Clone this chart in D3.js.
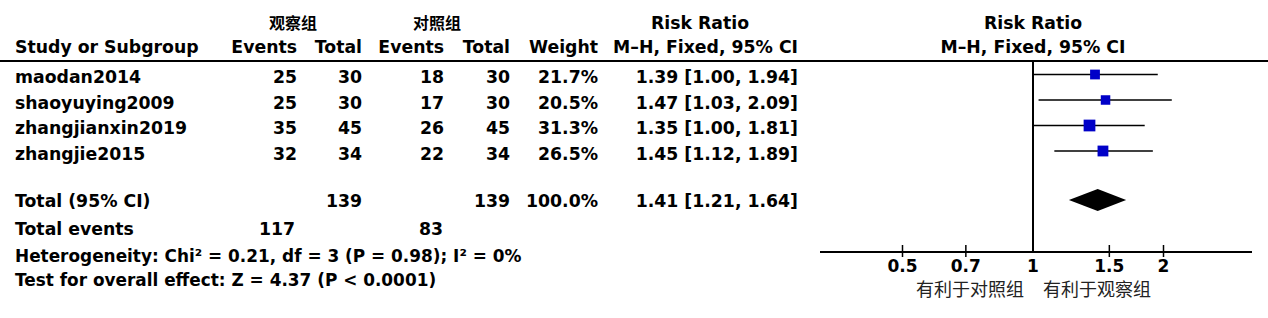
<!DOCTYPE html>
<html>
<head>
<meta charset="utf-8">
<script src="https://cdn.jsdelivr.net/npm/d3@7"></script>
<style>
  body { margin: 0; background: #fff; }
  text { font-family: "DejaVu Sans", sans-serif; font-weight: bold; font-size: 17.3px; fill: #000; }
  .cjk { font-family: "Noto Sans CJK SC", sans-serif; }
</style>
</head>
<body>
<div id="chart"></div>
<script>
// Study data
const studies = ["maodan2014", "shaoyuying2009", "zhangjianxin2019", "zhangjie2015"];
const obsEvents = [25, 25, 35, 32];
const obsTotal = [30, 30, 45, 34];
const ctrlEvents = [18, 17, 26, 22];
const ctrlTotal = [30, 30, 45, 34];
const weights = [21.7, 20.5, 31.3, 26.5];
const rr = [1.39, 1.47, 1.35, 1.45];
const ciLow = [1.00, 1.03, 1.00, 1.12];
const ciHigh = [1.94, 2.09, 1.81, 1.89];

// Pooled result
const pooled = {rr: 1.41, lo: 1.21, hi: 1.64, obsTotal: 139, ctrlTotal: 139, weight: 100.0, obsEvents: 117, ctrlEvents: 83};
const heterogeneity = "Heterogeneity: Chi² = 0.21, df = 3 (P = 0.98); I² = 0%";
const overallEffect = "Test for overall effect: Z = 4.37 (P < 0.0001)";

const ticks = [0.5, 0.7, 1, 1.5, 2];
const favourLeft = "有利于对照组";
const favourRight = "有利于观察组";

const width = 1268;
const height = 318;

const svg = d3.select("#chart")
  .append("svg")
    .attr("width", width)
    .attr("height", height);

// Log scale for the forest plot
const x = d3.scaleLog().domain([0.5, 2]).range([902.5, 1163.5]);
// Row positions (centres)
const y = d3.scaleLinear().domain([0, 3]).range([74.5, 151]);
const totalY = 200;

// Column right edges
const col = {obsE: 297, obsT: 362, ctrlE: 444, ctrlT: 510, weight: 598, ci: 798};

// Headers
const header = svg.append("g");
header.append("text").attr("class", "cjk").attr("x", 293).attr("y", 29).attr("text-anchor", "middle")
  .style("font-size", "16px").text("观察组");
header.append("text").attr("class", "cjk").attr("x", 437).attr("y", 29).attr("text-anchor", "middle")
  .style("font-size", "16px").text("对照组");
header.append("text").attr("x", 700).attr("y", 28.5).attr("text-anchor", "middle").text("Risk Ratio");
header.append("text").attr("x", x(1)).attr("y", 28.5).attr("text-anchor", "middle").text("Risk Ratio");

header.append("text").attr("x", 15).attr("y", 53).text("Study or Subgroup");
[["Events", col.obsE], ["Total", col.obsT], ["Events", col.ctrlE], ["Total", col.ctrlT],
 ["Weight", col.weight], ["M–H, Fixed, 95% CI", col.ci]].forEach(([t, cx]) => {
  header.append("text").attr("x", cx).attr("y", 53).attr("text-anchor", "end").text(t);
});
header.append("text").attr("x", x(1)).attr("y", 53).attr("text-anchor", "middle").text("M–H, Fixed, 95% CI");

svg.append("line")
  .attr("x1", 0).attr("x2", width).attr("y1", 61).attr("y2", 61)
  .attr("stroke", "#000").attr("stroke-width", 2);

// Study rows
const rows = svg.append("g")
  .selectAll("g")
  .data(studies.map((s, i) => ({s, i})))
  .join("g")
    .attr("transform", d => `translate(0,${y(d.i) + 8.5})`);

rows.append("text").attr("x", 15).text(d => d.s);
rows.append("text").attr("x", col.obsE).attr("text-anchor", "end").text(d => obsEvents[d.i]);
rows.append("text").attr("x", col.obsT).attr("text-anchor", "end").text(d => obsTotal[d.i]);
rows.append("text").attr("x", col.ctrlE).attr("text-anchor", "end").text(d => ctrlEvents[d.i]);
rows.append("text").attr("x", col.ctrlT).attr("text-anchor", "end").text(d => ctrlTotal[d.i]);
rows.append("text").attr("x", col.weight).attr("text-anchor", "end").text(d => weights[d.i].toFixed(1) + "%");
rows.append("text").attr("x", col.ci).attr("text-anchor", "end")
  .text(d => `${rr[d.i].toFixed(2)} [${ciLow[d.i].toFixed(2)}, ${ciHigh[d.i].toFixed(2)}]`);

// Total row
const tot = svg.append("g").attr("transform", `translate(0,${totalY + 6.7})`);
tot.append("text").attr("x", 15).text("Total (95% CI)");
tot.append("text").attr("x", col.obsT).attr("text-anchor", "end").text(pooled.obsTotal);
tot.append("text").attr("x", col.ctrlT).attr("text-anchor", "end").text(pooled.ctrlTotal);
tot.append("text").attr("x", col.weight).attr("text-anchor", "end").text(pooled.weight.toFixed(1) + "%");
tot.append("text").attr("x", col.ci).attr("text-anchor", "end")
  .text(`${pooled.rr.toFixed(2)} [${pooled.lo.toFixed(2)}, ${pooled.hi.toFixed(2)}]`);

const ev = svg.append("g").attr("transform", "translate(0,235)");
ev.append("text").attr("x", 15).text("Total events");
ev.append("text").attr("x", col.obsE - 2).attr("text-anchor", "end").text(pooled.obsEvents);
ev.append("text").attr("x", col.ctrlE - 1).attr("text-anchor", "end").text(pooled.ctrlEvents);

svg.append("text").attr("x", 15).attr("y", 261.5).style("font-size", "16.9px").text(heterogeneity);
svg.append("text").attr("x", 15).attr("y", 286).style("font-size", "16.9px").text(overallEffect);

// Forest plot
const plot = svg.append("g");
const axisY = 252;

// Line of no effect
plot.append("line")
  .attr("x1", x(1)).attr("x2", x(1)).attr("y1", 61).attr("y2", axisY)
  .attr("stroke", "#000").attr("stroke-width", 2);

// CI lines and weighted squares
plot.append("g")
  .selectAll("line")
  .data(studies.map((s, i) => i))
  .join("line")
    .attr("x1", i => x(ciLow[i])).attr("x2", i => x(ciHigh[i]))
    .attr("y1", i => y(i)).attr("y2", i => y(i))
    .attr("stroke", "#000").attr("stroke-width", 1.4);

plot.append("g")
  .selectAll("rect")
  .data(studies.map((s, i) => i))
  .join("rect")
    .attr("x", i => x(rr[i]) - 1.05 * Math.sqrt(weights[i]))
    .attr("y", i => y(i) - 1.05 * Math.sqrt(weights[i]))
    .attr("width", i => 2.1 * Math.sqrt(weights[i]))
    .attr("height", i => 2.1 * Math.sqrt(weights[i]))
    .attr("fill", "#0000c8");

// Pooled diamond
plot.append("path")
  .attr("d", `M${x(pooled.lo)},${totalY} L${x(pooled.rr)},${totalY - 11} L${x(pooled.hi)},${totalY} L${x(pooled.rr)},${totalY + 11} Z`)
  .attr("fill", "#000");

// Axis
plot.append("line")
  .attr("x1", 820).attr("x2", 1252).attr("y1", axisY).attr("y2", axisY)
  .attr("stroke", "#000").attr("stroke-width", 2);

const tk = plot.append("g")
  .selectAll("g")
  .data(ticks)
  .join("g")
    .attr("transform", d => `translate(${x(d)},0)`);
tk.filter(d => d !== 1).append("line")
  .attr("y1", axisY - 7).attr("y2", axisY + 5)
  .attr("stroke", "#000").attr("stroke-width", 1.5);
tk.append("text")
  .attr("y", 271.5)
  .attr("text-anchor", "middle")
  .style("font-size", "17px")
  .text(d => d);

plot.append("text").attr("class", "cjk")
  .attr("x", x(1) - 9).attr("y", 296).attr("text-anchor", "end")
  .style("font-size", "18px").style("font-weight", "normal").style("fill", "#222")
  .text(favourLeft);
plot.append("text").attr("class", "cjk")
  .attr("x", x(1) + 10).attr("y", 296).attr("text-anchor", "start")
  .style("font-size", "18px").style("font-weight", "normal").style("fill", "#222")
  .text(favourRight);
</script>
</body>
</html>
